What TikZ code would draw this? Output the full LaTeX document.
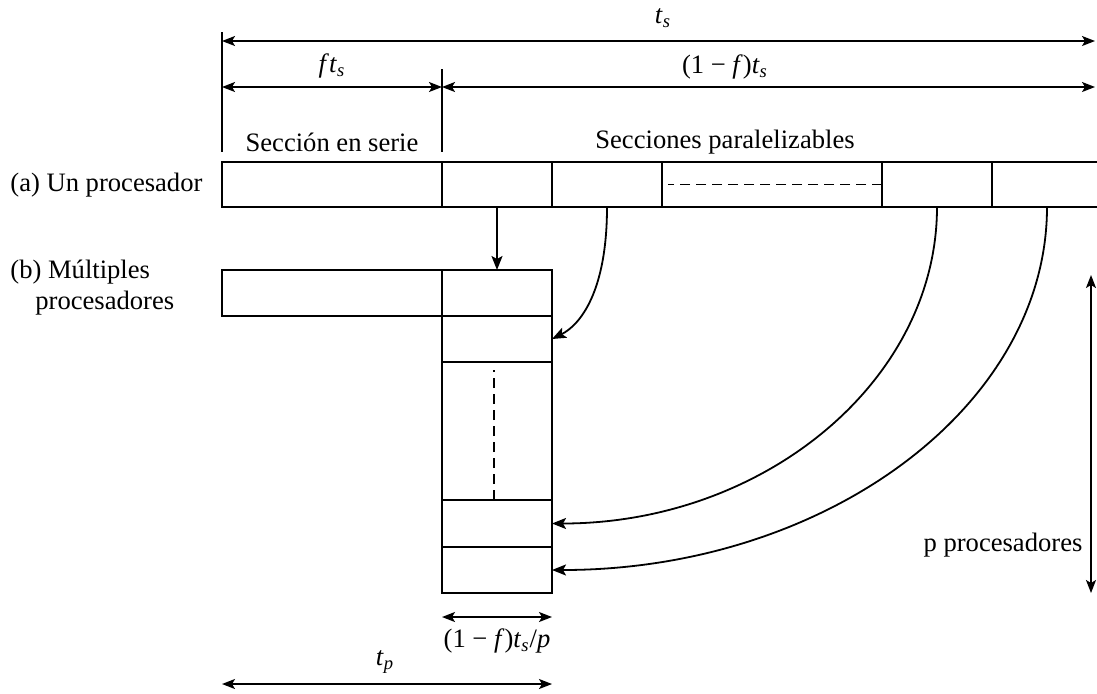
\documentclass[tikz,border=0pt]{standalone}
\usepackage{fontspec}
\setmainfont{Liberation Serif}
\usetikzlibrary{arrows.meta}
\newcommand{\myts}{\textit{t}\textsubscript{\textit{s}}}
\newcommand{\mytp}{\textit{t}\textsubscript{\textit{p}}}
\begin{document}
\begin{tikzpicture}[x=0.5pt,y=-0.5pt,
  box/.style={draw,line width=1pt,inner sep=0pt,outer sep=0pt,minimum height=22.5pt},
  wbox/.style={box,minimum width=110pt},
  nbox/.style={box,minimum width=55pt},
  lbl/.style={font=\fontsize{13.3}{16}\selectfont,inner sep=0pt},
  dim/.style={line width=0.8pt,{Stealth[length=6.5pt,width=5pt,inset=1.5pt]}-{Stealth[length=6.5pt,width=5pt,inset=1.5pt]}},
  conn/.style={line width=0.9pt,-{Stealth[length=7pt,width=5.5pt,inset=1.5pt]}},
  tick/.style={line width=0.8pt},
  dsh/.style={line width=0.8pt,dash pattern=on 5pt off 3pt}]
\useasboundingbox (0,0) rectangle (1097,693);
% (a) one processor
\node[wbox] (a0) at (332,184.5) {};
\node[nbox] (a1) at (497,184.5) {};
\node[nbox] (a2) at (607,184.5) {};
\node[wbox] (a3) at (772,184.5) {};
\node[nbox] (a4) at (937,184.5) {};
\node[nbox] (a5) at (1047,184.5) {};
\draw[dsh] (a3.east) -- ([xshift=3pt]a3.west);
% (b) multiple processors
\node[wbox,minimum height=23pt] (b0) at (332,293) {};
\node[nbox,minimum height=23pt] (c1) at (497,293) {};
\node[nbox,minimum height=23pt] (c2) at (497,339) {};
\node[nbox,minimum height=69pt] (c3) at (497,431) {};
\node[nbox,minimum height=23.5pt] (c4) at (497,523.5) {};
\node[nbox,minimum height=23pt] (c5) at (497,570) {};
\coordinate (d1) at (494,370);
\coordinate (d2) at (494,500);
\draw[dsh] (d2) -- (d1);
% labels
\node[lbl,anchor=west] (la) at (10,185) {(a) Un procesador};
\node[lbl,anchor=west] (lb) at (10,272) {(b) Múltiples};
\node[lbl,anchor=west] (lb2) at (35,303) {procesadores};
\node[lbl] (ser) at (332,142) {Sección en serie};
\node[lbl] (par) at (725,142) {Secciones paralelizables};
\node[lbl] (pp) at (1003,545) {p procesadores};
% top dimensions
\coordinate (k1t) at (222,32);
\coordinate (k1b) at (222,152);
\coordinate (k2t) at (442,69);
\coordinate (k2b) at (442,152);
\draw[tick] (k1t) -- (k1b);
\draw[tick] (k2t) -- (k2b);
\coordinate (ts1) at (222,41);
\coordinate (ts2) at (1095,41);
\coordinate (f1) at (222,87);
\coordinate (f2) at (442,87);
\coordinate (f3) at (1095,87);
\draw[dim] (ts1) -- (ts2);
\draw[dim] (f1) -- (f2);
\draw[dim] (f2) -- (f3);
\node[lbl] (lts) at (663,18) {\myts};
\node[lbl] (lft) at (332,66) {\textit{f}\myts};
\node[lbl] (l1f) at (725,67) {(1 − \textit{f})\myts};
% connectors
\draw[conn] (a1.south) -- (c1.north);
\draw[conn] (a2.south) .. controls +(0,85) and +(28,-14) .. (c2.east);
\draw[conn] (a4.south) .. controls +(0,174) and +(212,0) .. (c4.east);
\draw[conn] (a5.south) .. controls +(0,200) and +(273,0) .. (c5.east);
% right vertical
\coordinate (p1) at (1091,275);
\coordinate (p2) at (1091,593);
\draw[dim] (p1) -- (p2);
% bottom dimensions
\coordinate (w1) at (442,617);
\coordinate (w2) at (552,617);
\draw[dim] (w1) -- (w2);
\node[lbl] (lw) at (497,641) {(1 − \textit{f})\myts/\textit{p}};
\coordinate (t1) at (222,684);
\coordinate (t2) at (552,684);
\draw[dim] (t1) -- (t2);
\node[lbl] (ltp) at (385,662) {\mytp};
\end{tikzpicture}
\end{document}
